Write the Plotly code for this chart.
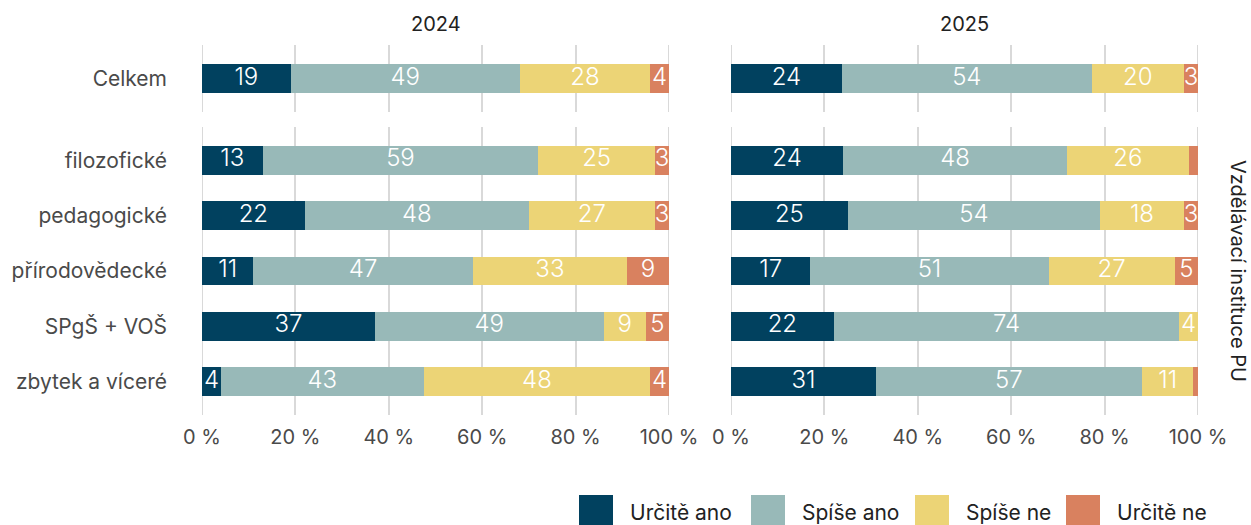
import plotly.graph_objects as go

W, H = 1251, 525

answers = ["Určitě ano", "Spíše ano", "Spíše ne", "Určitě ne"]
colors = ["#01415f", "#98b9b8", "#ecd476", "#d9815f"]
years = ["2024", "2025"]
total_label = "Celkem"
institutions = ["filozofické", "pedagogické", "přírodovědecké", "SPgŠ + VOŠ", "zbytek a víceré"]
rows = [total_label] + institutions
facet_label = "Vzdělávací instituce PU"
tick_vals = [0, 20, 40, 60, 80, 100]
tick_text = ["0 %", "20 %", "40 %", "60 %", "80 %", "100 %"]

# values per row (Celkem first, then institutions)
urcite_ano_2024 = [19, 13, 22, 11, 37, 4]
spise_ano_2024 = [49, 59, 48, 47, 49, 43]
spise_ne_2024 = [28, 25, 27, 33, 9, 48]
urcite_ne_2024 = [4, 3, 3, 9, 5, 4]

urcite_ano_2025 = [24, 24, 25, 17, 22, 31]
spise_ano_2025 = [54, 48, 54, 51, 74, 57]
spise_ne_2025 = [20, 26, 18, 27, 4, 11]
urcite_ne_2025 = [3, 2, 3, 5, 0, 1]

data = {
    "2024": [urcite_ano_2024, spise_ano_2024, spise_ne_2024, urcite_ne_2024],
    "2025": [urcite_ano_2025, spise_ano_2025, spise_ne_2025, urcite_ne_2025],
}

FONT = "Inter"
GRID = "#d9d9d9"


def px_x(p):
    return p / W


def px_y(p):
    return 1 - p / H


col_dom = [[px_x(202), px_x(669)], [px_x(731), px_x(1198)]]
row_dom = [[px_y(112), px_y(45)], [px_y(415), px_y(127)]]

fig = go.Figure()

for c, yr in enumerate(years):
    series = data[yr]
    n = len(rows)
    totals = [sum(s[i] for s in series) for i in range(n)]
    cum = [0.0] * n
    for k, ans in enumerate(answers):
        vals = series[k]
        shares = [vals[i] / totals[i] * 100 for i in range(n)]
        mids = [cum[i] + shares[i] / 2 for i in range(n)]
        for r in range(2):
            idx = [0] if r == 0 else list(range(1, n))
            ax = 1 + c + 2 * r
            xa = "x" if ax == 1 else f"x{ax}"
            ya = "y" if ax == 1 else f"y{ax}"
            fig.add_trace(go.Bar(
                x=[shares[i] for i in idx], y=[rows[i] for i in idx],
                orientation="h", marker=dict(color=colors[k], line=dict(width=0)),
                width=0.52, xaxis=xa, yaxis=ya, showlegend=False,
                hoverinfo="skip", name=ans,
            ))
            fig.add_trace(go.Scatter(
                x=[mids[i] for i in idx], y=[rows[i] for i in idx],
                mode="text",
                text=[str(vals[i]) if vals[i] >= 3 else "" for i in idx],
                textposition="middle center",
                textfont=dict(family=FONT, size=24, color="white", weight=300),
                cliponaxis=True, xaxis=xa, yaxis=ya, showlegend=False,
                hoverinfo="skip",
            ))
        cum = [cum[i] + shares[i] for i in range(n)]

layout = dict(
    template="none",
    width=W, height=H, margin=dict(l=0, r=0, t=0, b=0, autoexpand=False),
    paper_bgcolor="white", plot_bgcolor="white", barmode="stack",
    font=dict(family=FONT, color="#444444", size=18),
    showlegend=False,
)

shapes = []
for r in range(2):
    for c in range(2):
        ax = 1 + c + 2 * r
        xk = "xaxis" if ax == 1 else f"xaxis{ax}"
        yk = "yaxis" if ax == 1 else f"yaxis{ax}"
        ya_ref = "y" if ax == 1 else f"y{ax}"
        xa_ref = "x" if ax == 1 else f"x{ax}"
        layout[xk] = dict(
            domain=col_dom[c], anchor=ya_ref, range=[0, 100], automargin=False,
            tickvals=tick_vals, ticktext=tick_text,
            showticklabels=(r == 1), showgrid=True, gridcolor=GRID,
            gridwidth=2, zeroline=False, showline=False, ticks="",
            ticklabelstandoff=8,
            tickfont=dict(family=FONT, size=20, color="#4a4a4a"),
            fixedrange=True,
        )
        cats = [total_label] if r == 0 else institutions
        rng = [-0.6, 0.6] if r == 0 else [len(cats) - 0.4, -0.6]
        layout[yk] = dict(
            domain=row_dom[r], anchor=xa_ref, type="category", automargin=False,
            categoryorder="array", categoryarray=cats, range=rng,
            showticklabels=(c == 0), showgrid=False, zeroline=False,
            showline=False, ticks="", ticklabelstandoff=34,
            tickfont=dict(family=FONT, size=21, color="#4a4a4a"),
            fixedrange=True,
        )
        # grid lines at the range edges (0 % and 100 %)
        for edge in (tick_vals[0], tick_vals[-1]):
            shapes.append(dict(
                type="line", xref=xa_ref, yref=f"{ya_ref} domain",
                x0=edge, x1=edge, y0=0, y1=1,
                line=dict(color=GRID, width=2), layer="below",
            ))

fig.update_layout(**layout)

annotations = []
for c, yr in enumerate(years):
    annotations.append(dict(
        x=(col_dom[c][0] + col_dom[c][1]) / 2, y=px_y(24), xref="paper", yref="paper",
        text=yr, showarrow=False, xanchor="center", yanchor="middle",
        font=dict(family=FONT, size=20, color="#222222"),
    ))
annotations.append(dict(
    x=px_x(1238), y=(row_dom[1][0] + row_dom[1][1]) / 2, xref="paper", yref="paper",
    text=facet_label, showarrow=False, textangle=90, xanchor="center", yanchor="middle",
    font=dict(family=FONT, size=20, color="#222222"),
))

# legend
legend_sq_left = [579, 751, 915, 1066]
for k, ans in enumerate(answers):
    x0 = legend_sq_left[k]
    shapes.append(dict(
        type="rect", xref="paper", yref="paper",
        x0=px_x(x0), x1=px_x(x0 + 34), y0=px_y(529), y1=px_y(495),
        fillcolor=colors[k], line=dict(width=0),
    ))
    annotations.append(dict(
        x=px_x(x0 + 49), y=px_y(512), xref="paper", yref="paper",
        text=ans, showarrow=False, xanchor="left", yanchor="middle",
        font=dict(family=FONT, size=21, color="#222222"),
    ))

fig.update_layout(annotations=annotations, shapes=shapes)

fig.write_html("out.html", config={"displayModeBar": False},
               post_script="document.body.style.margin='0';")
